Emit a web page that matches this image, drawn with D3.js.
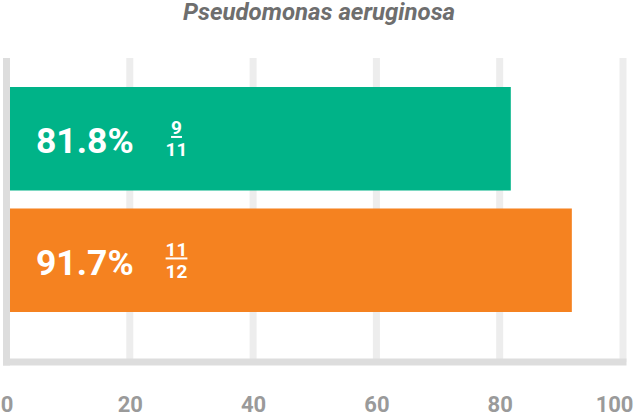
<!DOCTYPE html>
<html>
<head>
<meta charset="utf-8">
<script src="https://d3js.org/d3.v7.min.js"></script>
<style>
  body { margin: 0; background: #fff; }
  text { font-family: Roboto, "Noto Sans", sans-serif; }
</style>
</head>
<body>
<div id="chart"></div>
<script>
// datos
var categories = ["green", "orange"];
var percents = [81.8, 91.7];
var numerators = ["9", "11"];
var denominators = ["11", "12"];
var barColors = ["#00b388", "#f58220"];
var xTicks = [0, 20, 40, 60, 80, 100];
var title = "Pseudomonas aeruginosa";

// dimensions of the svg
var width = 636,
    height = 414;

var svg = d3.select("#chart")
            .append("svg")
            .attr("width", width)
            .attr("height", height);

// scales
var xScale = d3.scaleLinear()
               .domain([0, 100])
               .range([6.5, 623]);
var yScale = d3.scaleBand()
               .domain(categories)
               .range([87, 312])
               .paddingInner(0.148);

var plotTop = 58,
    plotBottom = 362;

// Title
svg.append("text")
   .attr("x", 319)
   .attr("y", 20)
   .attr("text-anchor", "middle")
   .attr("font-size", 24)
   .attr("font-weight", "bold")
   .attr("font-style", "italic")
   .attr("fill", "#6e6e6e")
   .text(title);

// Gridlines
svg.append("g")
   .selectAll("line")
   .data(xTicks.slice(1))
   .join("line")
   .attr("x1", d => xScale(d))
   .attr("x2", d => xScale(d))
   .attr("y1", plotTop)
   .attr("y2", plotBottom)
   .attr("stroke", "#ededed")
   .attr("stroke-width", 7);

// Bars
svg.append("g")
   .selectAll("rect")
   .data(categories)
   .join("rect")
   .attr("x", xScale(0))
   .attr("y", d => yScale(d))
   .attr("width", (d, i) => xScale(percents[i]) - xScale(0))
   .attr("height", yScale.bandwidth())
   .attr("fill", (d, i) => barColors[i]);

// axis lines (left + bottom)
svg.append("line")
   .attr("x1", xScale(0))
   .attr("x2", xScale(0))
   .attr("y1", plotTop)
   .attr("y2", plotBottom + 3.5)
   .attr("stroke", "#dddddd")
   .attr("stroke-width", 7);
svg.append("line")
   .attr("x1", xScale(0) - 3.5)
   .attr("x2", xScale(100) + 3.5)
   .attr("y1", plotBottom)
   .attr("y2", plotBottom)
   .attr("stroke", "#dddddd")
   .attr("stroke-width", 7);

// Percent labels
var labels = svg.append("g");
labels.selectAll("text.pct")
      .data(categories)
      .join("text")
      .attr("class", "pct")
      .attr("x", 36)
      .attr("y", d => yScale(d) + yScale.bandwidth() / 2 + 14.5)
      .attr("font-size", 35.5)
      .attr("font-weight", "bold")
      .attr("fill", "#fff")
      .text((d, i) => percents[i].toFixed(1) + "%");

// Fractions
categories.forEach(function(c, i) {
  var cy = yScale(c) + yScale.bandwidth() / 2;
  var fx = 176.5;
  var num = labels.append("text")
      .attr("x", fx)
      .attr("y", cy - 4.3)
      .attr("text-anchor", "middle")
      .attr("font-size", 19)
      .attr("font-weight", "bold")
      .attr("fill", "#fff")
      .text(numerators[i]);
  var w = num.node().getComputedTextLength();
  labels.append("rect")
      .attr("x", fx - w / 2)
      .attr("y", cy - 2.8)
      .attr("width", w)
      .attr("height", 2)
      .attr("fill", "#fff");
  labels.append("text")
      .attr("x", fx)
      .attr("y", cy + 17.7)
      .attr("text-anchor", "middle")
      .attr("font-size", 19)
      .attr("font-weight", "bold")
      .attr("fill", "#fff")
      .text(denominators[i]);
});

// X axis
var xAxis = svg.append("g")
   .attr("transform", "translate(0," + plotBottom + ")")
   .call(d3.axisBottom(xScale).tickValues(xTicks).tickSize(0).tickPadding(0));
xAxis.select(".domain").remove();
xAxis.selectAll("text")
     .attr("y", 50)
     .attr("dy", 0)
     .attr("font-size", 22)
     .attr("font-weight", "bold")
     .attr("font-family", "Roboto, sans-serif")
     .attr("fill", "#9a9a9a");
// el 100 se sale del svg, correrlo a la izquierda
xAxis.selectAll("text")
     .filter(d => d === 100)
     .attr("text-anchor", "end")
     .attr("x", 10);
</script>
</body>
</html>
